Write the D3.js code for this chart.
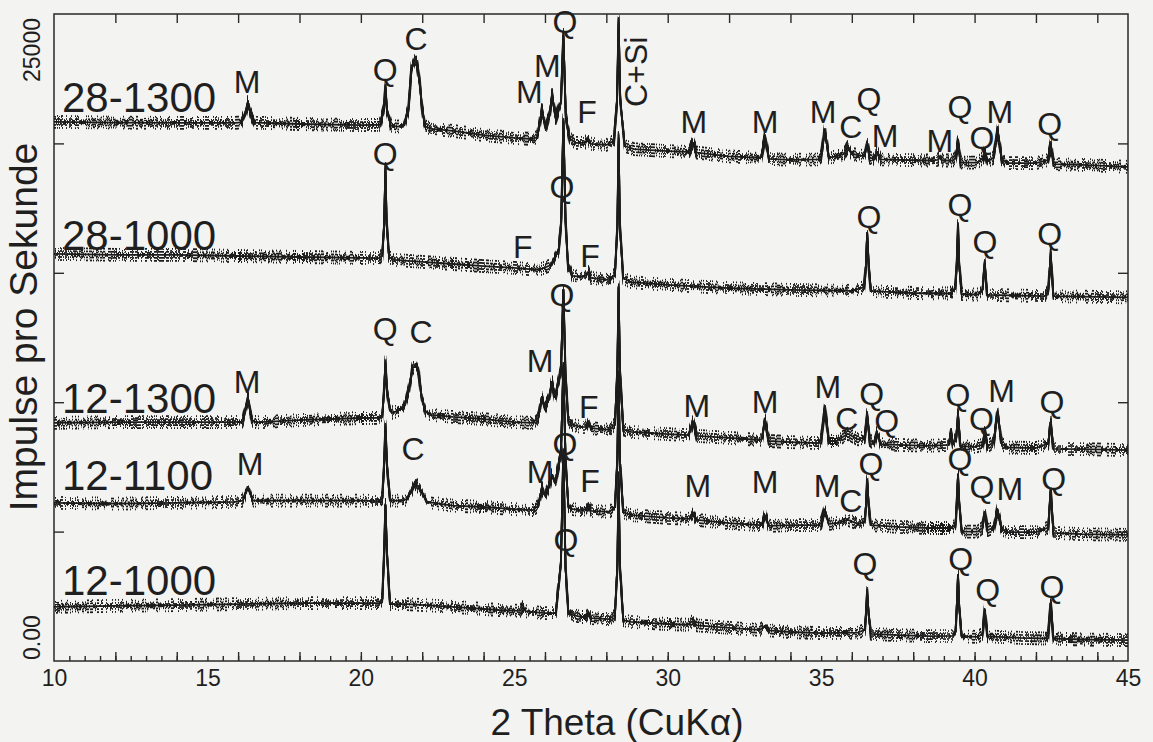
<!DOCTYPE html>
<html>
<head>
<meta charset="utf-8">
<script src="https://cdn.jsdelivr.net/npm/d3@7"></script>
<style>
  html, body { margin: 0; padding: 0; background: #f3f3f1; }
  svg { display: block; }
  text { font-family: "Liberation Sans", Arial, sans-serif; fill: #1f1f1f; }
</style>
</head>
<body>
<svg id="chart" width="1153" height="742"></svg>
<script>
// Diffractograms of five fired samples (sample - firing temperature),
// stacked with an offset; intensities in counts per second, x in 2 theta.
const samples = ["28-1300", "28-1000", "12-1300", "12-1100", "12-1000"];
const sampleLabelLevels = [21210, 15880, 9580, 6610, 2550];

const trace28_1300 = [
  [10.0,20830],[12.0,20800],[14.0,20790],[15.9,20790],
  [16.1,20810],[16.25,21200],[16.32,21600],[16.4,21150],[16.55,20800],
  [18.0,20750],[20.0,20710],
  [20.62,20720],[20.75,21300],[20.8,22180],[20.85,21300],[20.98,20690],
  [21.2,20650],
  [21.4,20700],[21.55,21300],[21.65,22900],[21.75,23220],[21.82,23150],[21.92,22300],[22.0,21300],[22.1,20660],[22.3,20560],
  [23.0,20480],[24.0,20320],[25.0,20210],[25.6,20170],
  [25.75,20250],[25.9,21290],[26.02,20600],
  [26.15,21100],[26.23,21870],[26.35,20980],
  [26.52,21600],[26.6,24190],[26.68,21000],[26.8,20200],[27.0,20020],
  [27.3,20020],[27.4,20170],[27.5,19980],
  [28.0,19940],
  [28.25,20100],[28.35,21700],[28.4,24770],[28.45,21700],[28.6,19900],[28.9,19780],
  [30.0,19700],[30.6,19670],
  [30.7,19700],[30.82,20020],[30.95,19640],
  [32.0,19500],[33.0,19440],
  [33.05,19500],[33.17,20250],[33.3,19400],
  [34.0,19360],[34.9,19380],
  [35.0,19500],[35.12,20520],[35.25,19450],
  [35.5,19500],[35.75,19600],[35.87,19860],[36.0,19600],[36.3,19520],
  [36.42,19550],[36.5,20020],[36.58,19450],
  [36.7,19400],[36.82,19650],[36.95,19380],
  [37.5,19360],[38.5,19340],
  [38.8,19360],[38.87,19500],[38.95,19340],
  [39.3,19340],
  [39.38,19450],[39.46,20050],[39.55,19260],
  [40.1,19260],
  [40.28,19450],[40.33,19670],[40.42,19300],
  [40.62,19450],[40.75,20520],[40.88,19400],[41.05,19240],
  [42.0,19240],
  [42.38,19350],[42.48,19940],[42.58,19200],
  [43.5,19170],[45.0,19090]
];

const trace28_1000 = [
  [10.0,15730],[12.0,15690],[14.0,15690],[16.0,15650],[18.0,15610],[20.0,15580],[20.6,15570],
  [20.7,15700],[20.76,16900],[20.8,19050],[20.84,16900],[20.92,15600],[21.1,15500],
  [22.0,15420],[23.0,15340],[24.0,15260],[25.0,15190],[25.8,15110],
  [26.2,15300],[26.45,15900],
  [26.53,17000],[26.6,20900],[26.67,17000],[26.75,15300],[26.9,14880],
  [27.2,14840],
  [27.35,14920],[27.42,15030],[27.5,14800],
  [28.1,14720],
  [28.28,14950],[28.36,16800],[28.4,20210],[28.44,16800],[28.55,14800],[28.8,14640],
  [30.0,14530],[32.0,14410],[34.0,14340],[36.0,14300],
  [36.4,14450],[36.46,15300],[36.5,16540],[36.55,15300],[36.62,14300],
  [37.0,14270],[38.0,14220],[39.2,14200],
  [39.37,14400],[39.42,15300],[39.46,16810],[39.5,15300],[39.58,14180],
  [40.1,14160],
  [40.26,14350],[40.33,15380],[40.41,14150],
  [41.5,14120],[42.3,14100],
  [42.4,14300],[42.48,15690],[42.57,14100],
  [43.5,14080],[45.0,14050]
];

const trace12_1300 = [
  [10.0,9200],[12.0,9230],[14.0,9230],[15.8,9230],
  [16.15,9250],[16.32,10160],[16.45,9300],[16.6,9220],
  [18.0,9310],[20.0,9390],[20.6,9400],
  [20.7,9500],[20.76,10500],[20.8,11550],[20.85,10500],[20.95,9700],[21.05,9580],
  [21.4,9810],[21.55,10400],[21.68,11300],[21.78,11440],[21.87,11250],[21.98,10200],[22.1,9650],[22.3,9510],
  [23.0,9430],[24.0,9350],[25.0,9230],[25.6,9200],
  [25.78,9400],[25.9,10200],[26.0,9780],
  [26.12,10100],[26.23,10780],[26.33,10200],
  [26.52,11200],[26.6,14340],[26.67,11000],[26.76,9300],[26.9,9120],
  [27.2,9040],
  [27.33,9050],[27.42,9230],[27.5,9000],
  [28.1,8930],
  [28.28,9150],[28.36,11300],[28.4,14450],[28.44,11300],[28.55,8950],[28.8,8850],
  [30.0,8770],[30.65,8730],
  [30.7,8800],[30.82,9230],[30.95,8700],
  [32.0,8620],[33.0,8540],
  [33.07,8600],[33.17,9310],[33.3,8500],
  [34.0,8460],[34.9,8420],
  [35.0,8550],[35.12,9810],[35.25,8500],
  [35.5,8500],[35.87,8780],[36.2,8560],
  [36.42,8650],[36.5,9510],[36.58,8550],
  [36.72,8400],[36.82,8810],[36.95,8380],
  [37.5,8350],[38.5,8310],
  [39.15,8350],[39.23,8810],[39.3,8400],
  [39.4,8600],[39.46,9510],[39.54,8300],
  [40.0,8270],
  [40.26,8350],[40.33,8810],[40.42,8300],
  [40.62,8450],[40.75,9620],[40.88,8400],[41.05,8250],
  [42.0,8230],
  [42.4,8400],[42.48,9230],[42.57,8200],
  [43.5,8190],[45.0,8150]
];

const trace12_1100 = [
  [10.0,6110],[12.0,6080],[14.0,6110],[15.9,6150],
  [16.15,6200],[16.32,6720],[16.48,6200],
  [18.0,6200],[20.0,6200],[20.6,6180],
  [20.7,6300],[20.76,7600],[20.8,9120],[20.85,7600],[20.95,6200],
  [21.3,6200],
  [21.5,6250],[21.78,6880],[21.95,6600],[22.15,6150],
  [23.0,6000],[24.0,5950],[25.0,5870],[25.6,5830],
  [25.78,6000],[25.9,6690],[26.0,6400],
  [26.15,6800],[26.23,7190],[26.33,6900],
  [26.52,8000],[26.6,11440],[26.67,7800],[26.76,6000],[26.9,5870],
  [27.2,5830],
  [27.33,5870],[27.42,6030],[27.5,5800],
  [28.1,5760],
  [28.28,5950],[28.36,7800],[28.4,11050],[28.44,7800],[28.55,5750],[28.8,5640],
  [30.0,5530],[30.65,5490],
  [30.7,5500],[30.82,5700],[30.95,5450],
  [32.0,5330],[33.0,5250],
  [33.07,5280],[33.17,5620],[33.3,5220],
  [34.0,5250],[34.9,5250],
  [35.0,5330],[35.12,5830],[35.25,5300],
  [35.5,5330],[35.87,5450],[36.2,5300],
  [36.42,5400],[36.46,6000],[36.5,6990],[36.55,6000],[36.62,5250],
  [37.5,5180],[38.5,5140],[39.25,5140],
  [39.38,5300],[39.42,6100],[39.46,7190],[39.5,6100],[39.58,5000],
  [40.1,5000],
  [40.26,5150],[40.33,5760],[40.42,5060],
  [40.62,5150],[40.75,5830],[40.88,5100],[41.05,4980],
  [42.0,4980],
  [42.4,5150],[42.48,6610],[42.57,4950],
  [43.5,4900],[45.0,4870]
];

const trace12_1000 = [
  [10.0,2090],[12.0,2130],[14.0,2160],[16.0,2200],[18.0,2240],[20.0,2240],[20.6,2240],
  [20.7,2400],[20.76,4200],[20.8,6030],[20.85,4200],[20.95,2200],
  [21.5,2200],[22.5,2130],[23.5,2050],[24.5,1970],
  [25.2,1940],[25.28,2090],[25.38,1920],
  [26.0,1850],[26.35,1850],
  [26.52,3800],[26.6,8150],[26.67,3600],[26.76,1900],[26.9,1780],
  [27.2,1700],
  [27.33,1700],[27.42,1850],[27.5,1660],
  [28.1,1620],
  [28.28,1800],[28.36,3700],[28.4,7070],[28.44,3700],[28.55,1580],[28.8,1510],
  [30.0,1430],[30.65,1400],
  [30.82,1550],[30.95,1380],
  [32.0,1280],[33.0,1200],
  [33.17,1350],[33.3,1180],
  [34.0,1120],[35.0,1080],[36.2,1100],
  [36.42,1200],[36.46,1800],[36.5,2630],[36.55,1800],[36.62,1050],
  [37.5,1000],[38.5,960],[39.3,970],
  [39.38,1150],[39.42,2100],[39.46,3320],[39.5,2100],[39.58,950],
  [40.1,930],
  [40.26,1050],[40.33,1970],[40.42,950],
  [41.5,890],[42.3,870],
  [42.4,1000],[42.48,2240],[42.57,870],
  [43.5,830],[45.0,810]
];

const traces = [trace28_1300, trace28_1000, trace12_1300, trace12_1100, trace12_1000];

// Phase labels: M mullite, Q quartz, C cristobalite, F feldspar; [text, 2 theta, counts]
const phaseLabels28_1300 = [
  ["M",16.29,21950],["Q",20.79,22410],["C",21.8,23610],["M",25.49,21560],["M",26.08,22570],
  ["Q",26.65,24270],["F",27.37,20790],["M",30.85,20400],["M",33.17,20400],["M",35.06,20790],
  ["C",35.97,20210],["Q",36.56,21290],["M",37.08,19860],["M",38.87,19670],["Q",39.52,20980],
  ["M",40.82,20790],["Q",40.24,19780],["Q",42.45,20320]
];
const phaseLabels28_1000 = [
  ["Q",20.79,19170],["F",25.28,15570],["Q",26.55,17890],["F",27.47,15220],
  ["Q",36.56,16730],["Q",39.52,17190],["Q",40.34,15770],["Q",42.45,16070]
];
const phaseLabels12_1300 = [
  ["M",16.29,10360],["Q",20.79,12400],["C",21.96,12290],["M",25.84,11170],["Q",26.55,13720],
  ["F",27.43,9390],["M",30.95,9430],["M",33.17,9580],["M",35.22,10160],["C",35.84,8930],
  ["Q",36.65,9890],["Q",37.14,8850],["Q",39.46,9850],["Q",40.22,8930],["M",40.88,10010],["Q",42.52,9580]
];
const phaseLabels12_1100 = [
  ["M",16.39,7190],["C",21.7,7770],["M",25.84,6880],["Q",26.65,7960],["F",27.47,6530],
  ["M",30.98,6340],["M",33.17,6490],["M",35.19,6340],["C",35.97,5760],["Q",36.62,7190],
  ["Q",39.52,7380],["Q",40.24,6300],["M",41.15,6220],["Q",42.58,6610]
];
const phaseLabels12_1000 = [
  ["Q",26.68,4250],["Q",36.43,3320],["Q",39.55,3520],["Q",40.43,2320],["Q",42.52,2430]
];
const phaseLabels = [phaseLabels28_1300, phaseLabels28_1000, phaseLabels12_1300, phaseLabels12_1100, phaseLabels12_1000];
const siliconLabel = ["C+Si", 29.32, 21410];

const xTickLabels = [10, 15, 20, 25, 30, 35, 40, 45];
const yTickMarks = [5000, 10000, 15000, 20000];
const yTickLabels = [[0, "0.00"], [25000, "25000"]];
const xTitle = "2 Theta (CuK\u03B1)";
const yTitle = "Impulse pro Sekunde";

// ---- layout ----
const plot = { left: 54, right: 1128, top: 14, bottom: 661 };
const x = d3.scaleLinear().domain([10, 45]).range([plot.left, plot.right]);
const y = d3.scaleLinear().domain([0, 25000]).range([plot.bottom, plot.top]);
const ink = "#1c1c1c";

const svg = d3.select("#chart");

// counting-statistics texture: the trace is copied with a column-wise vertical
// jitter, mirrored up and down at two amplitudes so the band stays centred.
const defs = svg.append("defs");
const f = defs.append("filter").attr("id", "rough")
  .attr("filterUnits", "userSpaceOnUse")
  .attr("x", 0).attr("y", 0).attr("width", 1153).attr("height", 742)
  .attr("color-interpolation-filters", "sRGB");
f.append("feTurbulence").attr("type", "fractalNoise")
  .attr("baseFrequency", "0.8 0.01").attr("numOctaves", 2).attr("seed", 5).attr("result", "noise");
function noiseMap(sign, name) {
  const gain = 3.2 * sign;
  const ct = f.append("feComponentTransfer").attr("in", "noise").attr("result", name);
  ct.append("feFuncR").attr("type", "linear").attr("slope", 0).attr("intercept", 0.5);
  ct.append("feFuncG").attr("type", "linear").attr("slope", gain).attr("intercept", 0.5 - gain / 2);
  ct.append("feFuncB").attr("type", "linear").attr("slope", 0).attr("intercept", 0.5);
  ct.append("feFuncA").attr("type", "linear").attr("slope", 0).attr("intercept", 1);
}
noiseMap(1, "up");
noiseMap(-1, "down");
const layers = [];
[["up", 12], ["down", 12], ["up", 6], ["down", 6]].forEach(([m, s], i) => {
  f.append("feDisplacementMap").attr("in", "SourceGraphic").attr("in2", m)
    .attr("scale", s).attr("xChannelSelector", "R").attr("yChannelSelector", "G")
    .attr("result", "j" + i);
  layers.push("j" + i);
});
const fm = f.append("feMerge");
fm.append("feMergeNode").attr("in", "SourceGraphic");
layers.forEach(l => fm.append("feMergeNode").attr("in", l));

// frame
svg.append("rect")
  .attr("x", plot.left).attr("y", plot.top)
  .attr("width", plot.right - plot.left).attr("height", plot.bottom - plot.top)
  .attr("fill", "none").attr("stroke", "#2a2a2a").attr("stroke-width", 1.5);

function styleTicks(g) {
  g.select(".domain").remove();
  g.selectAll(".tick line").attr("stroke", "#2a2a2a").attr("stroke-width", 1.4);
}

// bottom: minor ticks every 0.5 degree, major every 2 degrees, labels every 5
svg.append("g").attr("transform", `translate(0,${plot.bottom})`)
  .call(d3.axisBottom(x).tickValues(d3.range(10.5, 45, 0.5)).tickSize(-5).tickFormat(""))
  .call(styleTicks);
svg.append("g").attr("transform", `translate(0,${plot.bottom})`)
  .call(d3.axisBottom(x).tickValues(d3.range(12, 45, 2)).tickSize(-9).tickFormat(""))
  .call(styleTicks);
const xl = svg.append("g").attr("transform", `translate(0,${plot.bottom})`)
  .call(d3.axisBottom(x).tickValues(xTickLabels).tickSize(0).tickPadding(9).tickFormat(d3.format("d")));
xl.select(".domain").remove();
xl.selectAll("text").attr("font-size", 23).attr("font-family", "Liberation Sans, Arial, sans-serif").attr("fill", ink);

// top: major ticks only
svg.append("g").attr("transform", `translate(0,${plot.top})`)
  .call(d3.axisTop(x).tickValues(d3.range(12, 45, 2)).tickSize(-9).tickFormat(""))
  .call(styleTicks);

// left and right: inward ticks
svg.append("g").attr("transform", `translate(${plot.left},0)`)
  .call(d3.axisLeft(y).tickValues(yTickMarks).tickSize(-10).tickFormat(""))
  .call(styleTicks);
svg.append("g").attr("transform", `translate(${plot.right},0)`)
  .call(d3.axisRight(y).tickValues(yTickMarks).tickSize(-10).tickFormat(""))
  .call(styleTicks);

// y end labels, written along the axis
svg.append("g").selectAll("text").data(yTickLabels).join("text")
  .attr("transform", d => `translate(40,${d[0] === 0 ? y(d[0]) - 1 : y(d[0]) + 4}) rotate(-90)`)
  .attr("text-anchor", d => d[0] === 0 ? "start" : "end")
  .attr("font-size", 23)
  .text(d => d[1]);

// axis titles
svg.append("text")
  .attr("transform", "translate(37,327) rotate(-90)")
  .attr("text-anchor", "middle").attr("font-size", 39)
  .text(yTitle);
svg.append("text")
  .attr("x", 617).attr("y", 735)
  .attr("text-anchor", "middle").attr("font-size", 37)
  .text(xTitle);

// traces
const line = d3.line().x(d => x(d[0])).y(d => y(d[1]));
const tg = svg.append("g").attr("filter", "url(#rough)");
tg.selectAll("path").data(traces).join("path")
  .attr("d", line)
  .attr("fill", "none")
  .attr("stroke", ink)
  .attr("stroke-width", 1.8)
  .attr("stroke-linejoin", "round");

// sample names
svg.append("g").selectAll("text").data(samples).join("text")
  .attr("x", plot.left + 8)
  .attr("y", (d, i) => y(sampleLabelLevels[i]))
  .attr("font-size", 42)
  .text(d => d);

// phase letters
svg.append("g").selectAll("text").data(phaseLabels.flat()).join("text")
  .attr("x", d => x(d[1]))
  .attr("y", d => y(d[2]))
  .attr("text-anchor", "middle")
  .attr("font-size", 32)
  .text(d => d[0]);

svg.append("text")
  .attr("transform", `translate(${x(siliconLabel[1])},${y(siliconLabel[2])}) rotate(-90)`)
  .attr("text-anchor", "start")
  .attr("font-size", 32)
  .text(siliconLabel[0]);
</script>
</body>
</html>
